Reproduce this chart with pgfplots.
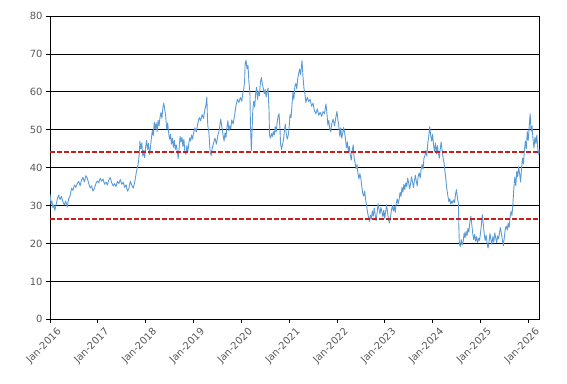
\documentclass[border=0pt]{standalone}
\usepackage{pgfplots}
\pgfplotsset{compat=1.18}
\usepackage{fontspec}
\setmainfont{DejaVu Sans}
\definecolor{serblue}{HTML}{5B9BD5}
\definecolor{dashred}{RGB}{200,30,30}
\definecolor{lblgray}{HTML}{595959}
\begin{document}
\begin{tikzpicture}
\begin{axis}[
  scale only axis,
  width=489.7bp, height=303.3bp,
  xmin=2016, xmax=2026.24,
  ymin=0, ymax=80,
  ytick={0,10,...,80},
  xtick={2016,2017,...,2026},
  xticklabels={Jan-2016,Jan-2017,Jan-2018,Jan-2019,Jan-2020,Jan-2021,Jan-2022,Jan-2023,Jan-2024,Jan-2025,Jan-2026},
  xticklabel style={rotate=45, anchor=north east, font=\fontsize{10}{11}\selectfont, text=lblgray, inner sep=1bp, xshift=3bp, yshift=-6bp},
  yticklabel style={font=\fontsize{10}{11}\selectfont, text=lblgray},
  /pgf/number format/assume math mode=true,
  xtick pos=bottom, ytick pos=left,
  tick align=outside,
  major tick length=4bp,
  tick style={black, line width=0.75bp},
  axis line style={black, line width=0.75bp},
  ymajorgrids,
  grid style={black, line width=0.75bp},
  clip=true,
]
\coordinate (ll) at (rel axis cs:0,0);
\coordinate (ur) at (rel axis cs:1,1);
\addplot[serblue, line width=0.9bp, line join=round] coordinates {
(2016.00,33.0)(2016.02,30.5)(2016.04,31.2)(2016.06,29.4)(2016.08,30.2)(2016.10,28.7)(2016.12,29.8)(2016.15,31.5)(2016.18,32.8)(2016.21,31.6)
(2016.24,32.4)(2016.27,31.0)(2016.30,30.2)(2016.33,31.2)(2016.36,29.6)(2016.39,31.8)(2016.42,32.5)(2016.45,34.6)(2016.48,34.0)(2016.51,35.4)
(2016.54,34.8)(2016.57,35.8)(2016.60,36.4)(2016.63,35.2)(2016.66,36.8)(2016.69,37.4)(2016.72,36.2)(2016.75,37.9)(2016.78,37.2)(2016.81,35.8)
(2016.84,34.6)(2016.87,35.2)(2016.90,33.8)(2016.93,34.6)(2016.96,35.8)(2016.99,36.5)(2017.02,36.0)(2017.05,37.2)(2017.08,36.4)(2017.11,37.0)
(2017.14,35.6)(2017.17,36.2)(2017.20,35.4)(2017.23,36.8)(2017.26,37.4)(2017.29,36.0)(2017.32,35.2)(2017.35,35.8)(2017.38,35.0)(2017.41,36.4)
(2017.44,35.8)(2017.47,36.9)(2017.50,35.6)(2017.53,36.2)(2017.56,34.8)(2017.59,35.5)(2017.62,33.8)(2017.65,34.5)(2017.68,36.4)(2017.71,35.4)
(2017.74,34.6)(2017.77,36.0)(2017.80,38.4)(2017.83,40.2)(2017.85,41.5)(2017.87,44.0)(2017.88,47.0)(2017.90,45.0)(2017.92,46.5)(2017.94,43.0)
(2017.96,44.6)(2017.98,42.6)(2018.00,45.5)(2018.02,47.2)(2018.04,44.8)(2018.06,46.4)(2018.08,43.5)(2018.10,45.2)(2018.12,47.8)(2018.14,49.8)
(2018.16,48.5)(2018.18,52.0)(2018.20,50.2)(2018.22,51.8)(2018.24,49.5)(2018.26,52.5)(2018.28,51.0)(2018.30,53.2)(2018.32,54.5)(2018.34,53.0)
(2018.36,55.8)(2018.38,57.0)(2018.40,55.2)(2018.42,53.5)(2018.44,50.2)(2018.46,51.8)(2018.48,49.2)(2018.50,47.5)(2018.52,48.8)(2018.54,46.2)
(2018.56,47.8)(2018.58,45.4)(2018.60,47.2)(2018.62,44.8)(2018.64,46.0)(2018.66,44.5)(2018.68,42.4)(2018.70,45.0)(2018.72,48.2)(2018.74,46.8)
(2018.76,48.0)(2018.78,45.6)(2018.80,47.5)(2018.82,44.2)(2018.84,43.5)(2018.86,45.8)(2018.88,44.0)(2018.90,46.2)(2018.92,47.8)(2018.94,47.0)
(2018.96,48.6)(2018.98,47.5)(2019.00,49.0)(2019.03,50.5)(2019.06,49.4)(2019.09,51.6)(2019.12,53.2)(2019.15,52.4)(2019.18,54.0)(2019.21,53.0)
(2019.24,55.4)(2019.26,56.5)(2019.28,58.6)(2019.29,54.0)(2019.30,51.0)(2019.32,49.5)(2019.34,46.0)(2019.35,44.0)(2019.37,43.2)(2019.39,45.0)
(2019.42,46.5)(2019.45,47.8)(2019.48,46.2)(2019.51,48.5)(2019.54,50.0)(2019.57,52.8)(2019.60,50.2)(2019.62,48.5)(2019.64,47.0)(2019.66,49.2)
(2019.68,48.0)(2019.70,50.5)(2019.72,52.4)(2019.74,49.8)(2019.76,51.0)(2019.78,50.2)(2019.80,52.6)(2019.83,51.5)(2019.86,53.8)(2019.89,56.5)
(2019.92,58.0)(2019.95,57.2)(2019.98,58.5)(2020.01,57.5)(2020.03,59.5)(2020.05,60.5)(2020.07,63.0)(2020.08,67.5)(2020.10,68.3)(2020.12,66.0)
(2020.14,67.0)(2020.16,62.5)(2020.18,60.0)(2020.19,52.0)(2020.21,44.5)(2020.22,48.0)(2020.24,55.0)(2020.26,57.5)(2020.28,56.0)(2020.30,59.5)
(2020.32,61.2)(2020.34,58.0)(2020.36,60.2)(2020.38,59.0)(2020.40,62.5)(2020.42,63.8)(2020.44,62.0)(2020.46,61.0)(2020.48,59.5)(2020.50,60.6)
(2020.52,58.6)(2020.54,60.0)(2020.56,61.0)(2020.58,55.0)(2020.59,48.5)(2020.61,47.8)(2020.63,49.0)(2020.65,48.2)(2020.67,49.5)(2020.69,48.6)
(2020.71,50.8)(2020.73,49.4)(2020.75,52.0)(2020.77,53.5)(2020.79,54.2)(2020.81,50.0)(2020.82,46.5)(2020.84,44.8)(2020.86,46.0)(2020.88,47.2)
(2020.90,49.5)(2020.92,51.5)(2020.94,49.0)(2020.96,47.5)(2020.98,48.4)(2021.00,50.5)(2021.02,54.0)(2021.04,53.2)(2021.06,56.5)(2021.08,59.8)
(2021.10,58.0)(2021.12,61.5)(2021.14,62.2)(2021.16,60.8)(2021.18,63.5)(2021.20,64.8)(2021.22,66.0)(2021.24,64.5)(2021.26,67.0)(2021.27,68.2)
(2021.29,64.0)(2021.31,61.0)(2021.33,59.5)(2021.35,57.2)(2021.38,58.6)(2021.41,57.4)(2021.44,58.0)(2021.47,56.2)(2021.50,57.0)(2021.53,55.0)
(2021.56,54.2)(2021.59,55.5)(2021.62,53.8)(2021.65,54.6)(2021.68,53.5)(2021.71,54.8)(2021.74,54.2)(2021.77,56.8)(2021.79,54.5)(2021.81,51.2)
(2021.83,52.5)(2021.85,50.0)(2021.87,49.5)(2021.89,51.5)(2021.92,52.8)(2021.95,51.0)(2021.98,53.5)(2022.00,54.8)(2022.02,52.6)(2022.04,51.0)
(2022.06,48.2)(2022.08,50.5)(2022.10,47.8)(2022.12,49.0)(2022.14,50.6)(2022.17,48.5)(2022.20,45.2)(2022.22,46.8)(2022.24,44.0)(2022.26,45.6)
(2022.28,43.2)(2022.30,42.0)(2022.32,44.5)(2022.34,46.0)(2022.36,42.5)(2022.38,41.2)(2022.40,39.8)(2022.42,40.8)(2022.44,38.5)(2022.46,37.0)
(2022.48,38.4)(2022.50,37.2)(2022.52,35.0)(2022.54,33.2)(2022.56,32.5)(2022.58,33.8)(2022.60,31.6)(2022.62,30.0)(2022.64,28.2)(2022.66,27.0)
(2022.68,25.8)(2022.70,27.5)(2022.72,26.4)(2022.74,28.6)(2022.76,27.2)(2022.78,29.4)(2022.80,27.6)(2022.82,26.0)(2022.84,28.2)(2022.86,30.5)
(2022.88,29.0)(2022.90,27.8)(2022.92,29.5)(2022.94,28.4)(2022.96,27.0)(2022.98,28.8)(2023.00,26.6)(2023.02,28.5)(2023.04,30.2)(2023.06,28.0)
(2023.08,26.2)(2023.10,25.4)(2023.12,27.0)(2023.14,28.8)(2023.16,30.0)(2023.18,28.6)(2023.20,29.8)(2023.22,28.2)(2023.24,30.6)(2023.26,31.8)
(2023.28,30.4)(2023.30,31.6)(2023.32,33.5)(2023.34,32.4)(2023.36,34.8)(2023.38,33.5)(2023.40,35.6)(2023.42,34.2)(2023.44,36.0)(2023.46,35.0)
(2023.48,37.2)(2023.50,36.0)(2023.52,34.4)(2023.54,35.8)(2023.56,37.6)(2023.58,36.2)(2023.60,34.8)(2023.62,36.5)(2023.64,38.0)(2023.66,36.4)
(2023.68,35.2)(2023.70,37.8)(2023.72,38.6)(2023.74,37.2)(2023.76,39.5)(2023.78,40.8)(2023.80,39.6)(2023.82,42.5)(2023.84,43.2)(2023.86,44.6)
(2023.88,43.0)(2023.90,46.5)(2023.92,48.2)(2023.94,50.8)(2023.96,48.6)(2023.98,47.0)(2024.00,48.8)(2024.02,46.0)(2024.04,44.2)(2024.06,46.5)
(2024.08,43.6)(2024.10,45.8)(2024.12,44.0)(2024.14,42.5)(2024.16,44.8)(2024.18,46.8)(2024.20,44.5)(2024.22,42.6)(2024.24,41.2)(2024.26,39.0)
(2024.28,36.5)(2024.30,34.2)(2024.32,32.5)(2024.34,31.0)(2024.36,31.8)(2024.38,30.4)(2024.40,31.2)(2024.42,30.6)(2024.44,31.5)(2024.46,30.8)
(2024.48,33.0)(2024.50,34.2)(2024.52,32.0)(2024.54,30.5)(2024.55,24.0)(2024.56,20.0)(2024.58,19.2)(2024.60,21.0)(2024.62,19.6)(2024.64,20.5)
(2024.66,22.8)(2024.68,21.5)(2024.70,23.2)(2024.72,22.0)(2024.74,24.0)(2024.76,23.0)(2024.78,25.8)(2024.80,27.2)(2024.82,25.0)(2024.84,22.6)
(2024.86,21.0)(2024.88,22.4)(2024.90,20.6)(2024.92,21.8)(2024.94,20.2)(2024.96,21.4)(2024.98,20.8)(2025.00,22.5)(2025.02,24.8)(2025.04,27.6)
(2025.06,25.2)(2025.08,22.4)(2025.10,20.8)(2025.12,22.2)(2025.14,20.0)(2025.16,18.8)(2025.18,20.4)(2025.20,22.6)(2025.22,21.0)(2025.24,19.8)
(2025.26,21.8)(2025.28,20.4)(2025.30,22.8)(2025.32,21.5)(2025.34,20.2)(2025.36,22.0)(2025.38,21.2)(2025.40,23.0)(2025.42,24.2)(2025.44,22.5)
(2025.46,21.0)(2025.48,19.4)(2025.50,21.6)(2025.52,23.8)(2025.54,24.6)(2025.56,23.5)(2025.58,25.4)(2025.60,24.2)(2025.62,26.8)(2025.64,28.5)
(2025.66,27.4)(2025.68,30.5)(2025.70,34.8)(2025.72,37.5)(2025.74,35.2)(2025.76,39.0)(2025.78,37.6)(2025.80,40.2)(2025.82,38.4)(2025.84,36.2)
(2025.86,39.8)(2025.88,42.5)(2025.90,41.0)(2025.92,44.5)(2025.94,47.0)(2025.96,45.0)(2025.98,49.5)(2026.00,47.2)(2026.02,50.8)(2026.04,54.2)
(2026.06,49.6)(2026.08,51.0)(2026.10,47.5)(2026.12,45.2)(2026.14,48.0)(2026.16,46.4)(2026.18,48.6)(2026.20,45.0)(2026.22,43.5)(2026.24,44.8)
};
\addplot[dashred, line width=1.5bp, dash pattern=on 4.5bp off 2.5bp] coordinates {(2016,44.1)(2026.24,44.1)};
\addplot[dashred, line width=1.5bp, dash pattern=on 4.5bp off 2.5bp] coordinates {(2016,26.4)(2026.24,26.4)};
\end{axis}
\pgfresetboundingbox
\path ([shift={(-50bp,-64bp)}]ll) rectangle ([shift={(27.3bp,16bp)}]ur);
\end{tikzpicture}
\end{document}
